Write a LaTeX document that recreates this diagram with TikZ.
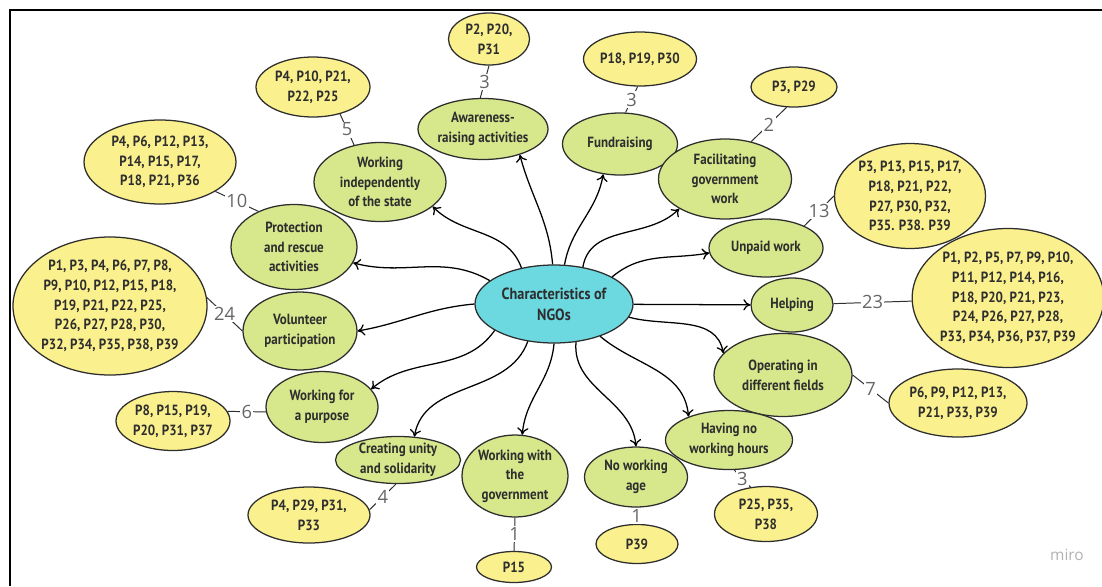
\documentclass[tikz,border=0pt]{standalone}
\usepackage{fontspec}
\setmainfont{PT Sans}
\newfontfamily\boxfont[FakeStretch=0.88]{PT Sans}
\newfontfamily\numfont{Open Sans}
\usetikzlibrary{shapes.geometric,arrows.meta}

\definecolor{charfill}{HTML}{D7E78C}
\definecolor{partfill}{HTML}{FAF08E}
\definecolor{hubfill}{HTML}{6CD9E0}
\definecolor{ink}{HTML}{2E2E2E}

\tikzset{
 bubble/.style 2 args={draw=ink,line width=0.9pt,ellipse,inner sep=0pt,align=center,text=ink,
   font=\boxfont\bfseries\fontsize{10.5}{14}\selectfont,
   minimum width=#1*0.025cm,minimum height=#2*0.025cm},
 hub/.style 2 args={bubble={#1}{#2},fill=hubfill,font=\boxfont\bfseries\fontsize{11.5}{15}\selectfont},
 trait/.style 2 args={bubble={#1}{#2},fill=charfill},
 partic/.style 2 args={bubble={#1}{#2},fill=partfill},
 link/.style={->,line width=0.9pt,black},
 tallyline/.style={line width=0.7pt,ink},
 tally/.style={fill=white,inner sep=1pt,text=black!60,font=\numfont\fontsize{13}{13}\selectfont}
}

\begin{document}
\begin{tikzpicture}
[x=0.025cm,y=0.025cm,>={To[length=5pt,width=8pt]}]

\useasboundingbox (0,0) rectangle (1102,-586);

% the frame
\draw[line width=1.5pt] (10,-586) -- (10,-10) -- (1102,-10);

% the central node
\node[hub={158}{78}] (ngo) at (554,-304) {Characteristics of\\NGOs};

% the characteristics
\node[trait={130}{61}] (aware) at (483,-129) {Awareness-\\raising activities};
\node[trait={115}{62}] (fund) at (620,-144) {Fundraising};
\node[trait={133}{80}] (facil) at (725,-179) {Facilitating\\government\\work};
\node[trait={114}{58}] (unpaid) at (766,-248) {Unpaid work};
\node[trait={82}{54}] (help) at (792,-305) {Helping};
\node[trait={138}{83}] (operate) at (783,-375) {Operating in\\different fields};
\node[trait={127}{59}] (hours) at (729,-440) {Having no\\working hours};
\node[trait={103}{60}] (age) at (636,-477) {No working\\age};
\node[trait={106}{82}] (govwork) at (515,-476) {Working with\\the\\government};
\node[trait={125}{47}] (unity) at (398,-460) {Creating unity\\and solidarity};
\node[trait={112}{71}] (purpose) at (322,-407) {Working for\\a purpose};
\node[trait={114}{78}] (volunt) at (300,-331) {Volunteer\\participation};
\node[trait={126}{85}] (protect) at (294,-247) {Protection\\and rescue\\activities};
\node[trait={132}{79}] (indep) at (380,-182) {Working\\independently\\of the state};

% the participants
\node[partic={81}{52}] (awarep) at (489,-39) {P2, P20,\\P31};
\node[partic={113}{54}] (fundp) at (640,-59) {P18, P19, P30};
\node[partic={86}{40}] (facilp) at (794,-87) {P3, P29};
\node[partic={151}{105}] (unpaidp) at (910,-196) {P3, P13, P15, P17,\\P18, P21, P22,\\P27, P30, P32,\\P35. P38. P39};
\node[partic={185}{139}] (helpp) at (1008,-298) {P1, P2, P5, P7, P9, P10,\\P11, P12, P14, P16,\\P18, P20, P21, P23,\\P24, P26, P27, P28,\\P33, P34, P36, P37, P39};
\node[partic={138}{68}] (operatep) at (958,-403) {P6, P9, P12, P13,\\P21, P33, P39};
\node[partic={103}{55}] (hoursp) at (766,-514) {P25, P35,\\P38};
\node[partic={82}{39}] (agep) at (637,-544) {P39};
\node[partic={75}{31}] (govworkp) at (514,-567) {P15};
\node[partic={122}{56}] (unityp) at (309,-515) {P4, P29, P31,\\P33};
\node[partic={114}{59}] (purposep) at (173,-421) {P8, P15, P19,\\P20, P31, P37};
\node[partic={194}{138}] (voluntp) at (110,-306) {P1, P3, P4, P6, P7, P8,\\P9, P10, P12, P15, P18,\\P19, P21, P22, P25,\\P26, P27, P28, P30,\\P32, P34, P35, P38, P39};
\node[partic={152}{84}] (protectp) at (160,-162) {P4, P6, P12, P13,\\P14, P15, P17,\\P18, P21, P36};
\node[partic={114}{60}] (indepp) at (313,-87) {P4, P10, P21,\\P22, P25};

% the arrows from the centre
\draw[link] (ngo.92) to[out=95,in=-75] (aware.-35);
\draw[link] (ngo.75) to[out=80,in=-100] (fund.241);
\draw[link] (ngo.52) to[out=80,in=225] (facil.213);
\draw[link] (ngo.25) to[out=40,in=190] (unpaid.185);
\draw[link] (ngo) -- (help);
\draw[link] (ngo.-10) to[out=-15,in=100] (operate.160);
\draw[link] (ngo.-35) to[out=-40,in=95] (hours.150);
\draw[link] (ngo.-60) to[out=265,in=95] (age.90);
\draw[link] (ngo.270) to[out=265,in=85] (govwork.80);
\draw[link] (ngo.235) to[out=250,in=80] (unity.55);
\draw[link] (ngo.204) to[out=235,in=40] (purpose.20);
\draw[link] (ngo.180) to[out=185,in=10] (volunt.0);
\draw[link] (ngo.160) to[out=150,in=-15] (protect.-15);
\draw[link] (ngo.132) to[out=110,in=-45] (indep.-25);

% the counts
\draw[tallyline] (aware.95) -- node[tally] {3} (awarep.270);
\draw[tallyline] (fund.80) -- node[tally] {3} (fundp.265);
\draw[tallyline] (facil.55) -- node[tally] {2} (facilp.250);
\draw[tallyline] (unpaid.30) -- node[tally] {13} (unpaidp.180);
\draw[tallyline] (help) -- node[tally] {23} (helpp);
\draw[tallyline] (operate.0) -- node[tally] {7} (operatep.180);
\draw[tallyline] (hours.-80) -- node[tally] {3} (hoursp.120);
\draw[tallyline] (age.270) -- node[tally] {1} (agep.90);
\draw[tallyline] (govwork.270) -- node[tally] {1} (govworkp.90);
\draw[tallyline] (unity.265) -- node[tally] {4} (unityp.5);
\draw[tallyline] (purpose.185) -- node[tally] {6} (purposep.10);
\draw[tallyline] (volunt.180) -- node[tally] {24} (voluntp.5);
\draw[tallyline] (protect.135) -- node[tally] {10} (protectp.-28);
\draw[tallyline] (indep.125) -- node[tally] {5} (indepp.-45);

% the mark
\node[text=black!30,font=\numfont\fontsize{11}{11}\selectfont] (miro) at (1067,-555) {miro};

\end{tikzpicture}
\end{document}
